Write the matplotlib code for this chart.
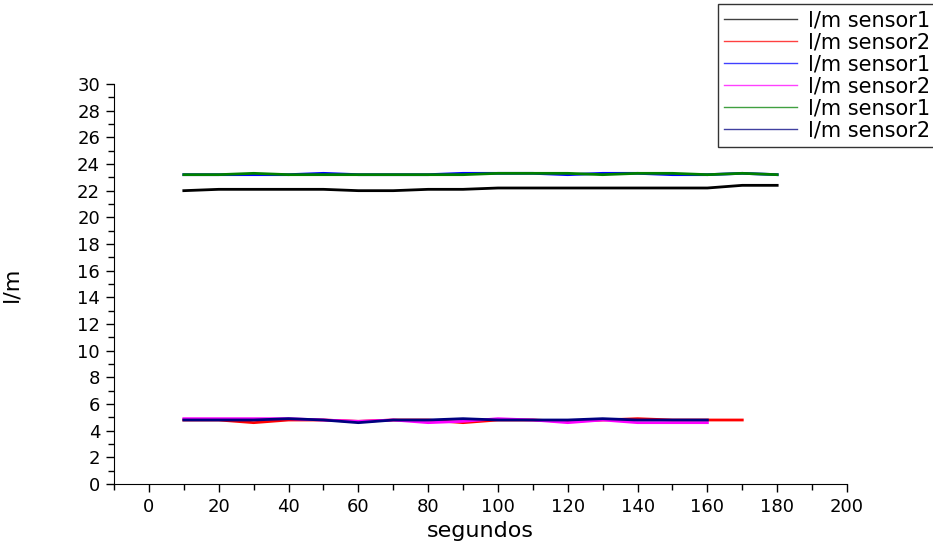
import numpy as np
import matplotlib
matplotlib.use("Agg")
import matplotlib.pyplot as plt
from matplotlib.ticker import MultipleLocator

# time axis (seconds)
t_long = [10, 20, 30, 40, 50, 60, 70, 80, 90, 100, 110, 120, 130, 140, 150, 160, 170, 180]
t_170 = t_long[:17]
t_160 = t_long[:16]

# flow readings l/m
black_s1 = [22.0, 22.1, 22.1, 22.1, 22.1, 22.0, 22.0, 22.1, 22.1, 22.2, 22.2, 22.2, 22.2, 22.2, 22.2, 22.2, 22.4, 22.4]
red_s2 = [4.8, 4.8, 4.6, 4.8, 4.8, 4.7, 4.8, 4.8, 4.6, 4.8, 4.8, 4.7, 4.8, 4.9, 4.8, 4.8, 4.8]
blue_s1 = [23.2, 23.2, 23.2, 23.2, 23.3, 23.2, 23.2, 23.2, 23.3, 23.3, 23.3, 23.2, 23.3, 23.3, 23.2, 23.2, 23.3, 23.2]
magenta_s2 = [4.9, 4.9, 4.9, 4.9, 4.8, 4.7, 4.8, 4.6, 4.7, 4.9, 4.8, 4.6, 4.8, 4.6, 4.6, 4.6]
green_s1 = [23.2, 23.2, 23.3, 23.2, 23.2, 23.2, 23.2, 23.2, 23.2, 23.3, 23.3, 23.3, 23.2, 23.3, 23.3, 23.2, 23.3, 23.2]
navy_s2 = [4.8, 4.8, 4.8, 4.9, 4.8, 4.6, 4.8, 4.8, 4.9, 4.8, 4.8, 4.8, 4.9, 4.8, 4.8, 4.8]

fig = plt.figure(figsize=(9.33, 5.44), dpi=100)
ax = fig.add_axes([114 / 933, 60 / 544, (847 - 114) / 933, (484 - 84) / 544])

lw = 2
ax.plot(t_long, black_s1, color="black", lw=lw, label="l/m sensor1")
ax.plot(t_170, red_s2, color="red", lw=lw, label="l/m sensor2")
ax.plot(t_long, blue_s1, color="blue", lw=lw, label="l/m sensor1")
ax.plot(t_160, magenta_s2, color="magenta", lw=lw, label="l/m sensor2")
ax.plot(t_long, green_s1, color="green", lw=lw, label="l/m sensor1")
ax.plot(t_160, navy_s2, color="navy", lw=lw, label="l/m sensor2")

ax.set_xlim(-10, 200)
ax.set_ylim(0, 30)
ax.xaxis.set_major_locator(MultipleLocator(20))
ax.xaxis.set_minor_locator(MultipleLocator(10))
ax.yaxis.set_major_locator(MultipleLocator(2))
ax.yaxis.set_minor_locator(MultipleLocator(1))
ax.spines["top"].set_visible(False)
ax.spines["right"].set_visible(False)
ax.tick_params(which="major", length=6, width=1, labelsize=13, direction="out", pad=4)
ax.tick_params(which="minor", length=4, width=1, direction="out")

ax.set_xlabel("segundos", fontsize=16, labelpad=4)
ax.set_ylabel("l/m", fontsize=16, labelpad=40)

leg = ax.legend(loc="upper right", bbox_to_anchor=(936 / 933, 540 / 544),
                bbox_transform=fig.transFigure, fontsize=15, frameon=True,
                fancybox=False, edgecolor="black", handlelength=3.5,
                borderpad=0.3, labelspacing=0.1, handletextpad=0.5,
                borderaxespad=0)
leg.get_frame().set_linewidth(1)
for line in leg.get_lines():
    line.set_linewidth(1)
    line.set_alpha(0.75)

fig.savefig("out.png", dpi=100)
